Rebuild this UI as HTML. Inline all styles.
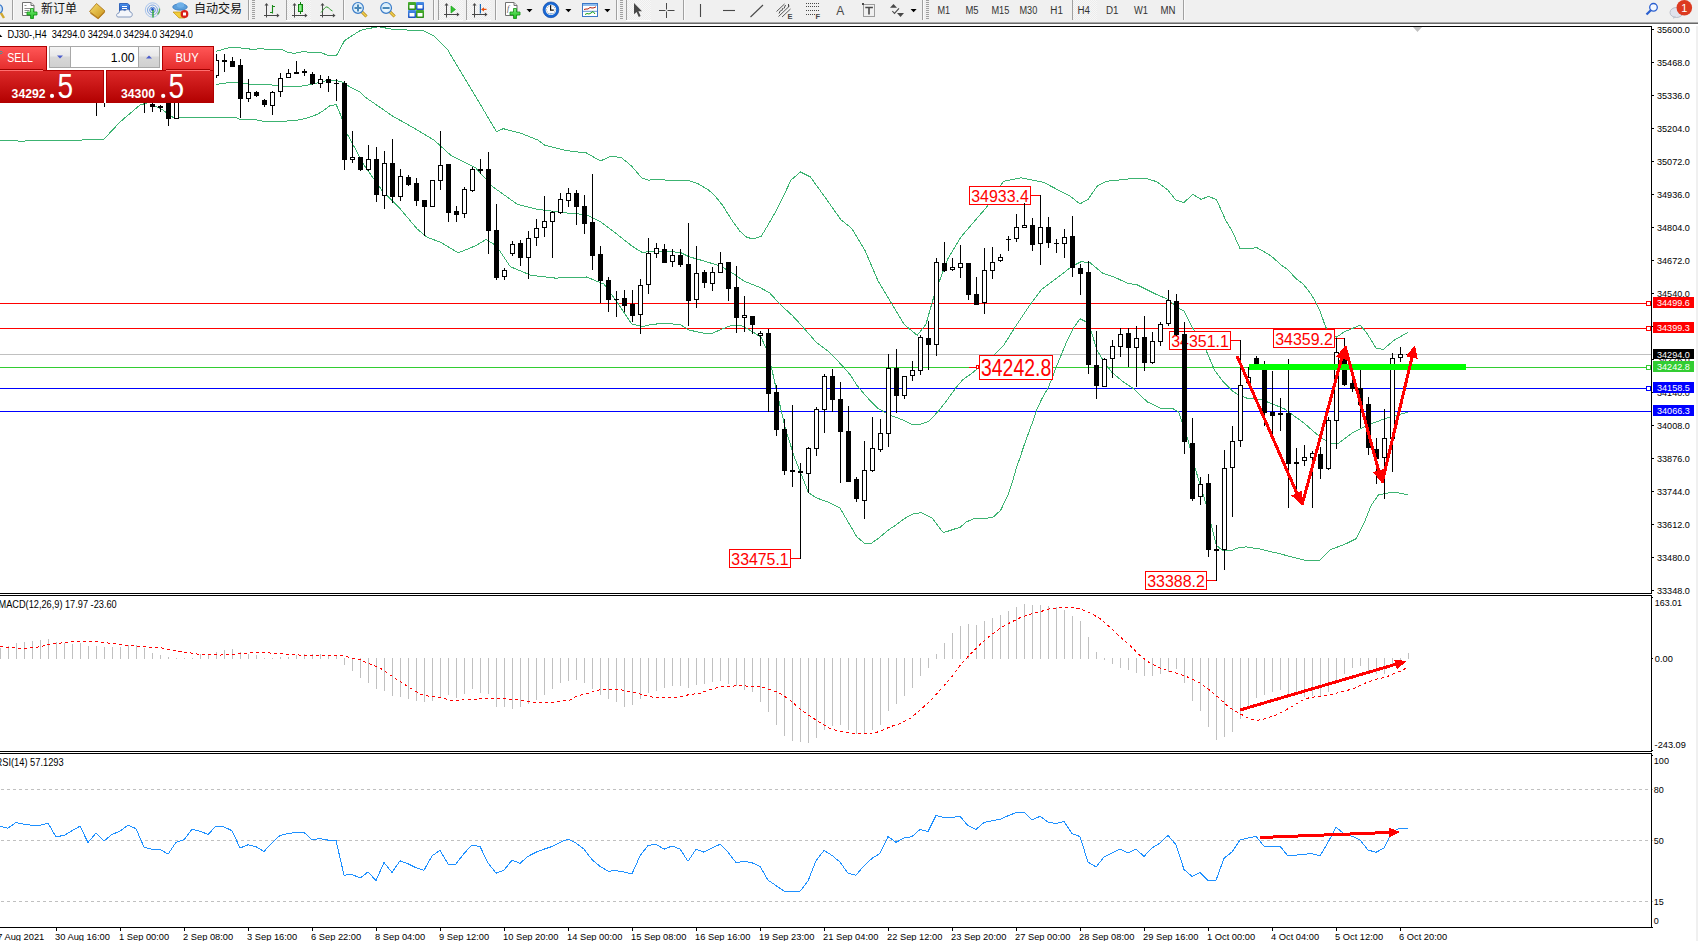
<!DOCTYPE html>
<html><head><meta charset="utf-8"><title>MT4 DJ30 H4</title>
<style>
html,body{margin:0;padding:0;background:#fff;}
body{width:1698px;height:941px;overflow:hidden;position:relative;font-family:"Liberation Sans",Arial,sans-serif;}
svg text{white-space:pre;}
</style></head><body>
<svg width="1698" height="941" viewBox="0 0 1698 941" style="position:absolute;left:0;top:0" font-family="Liberation Sans, Arial, sans-serif">
<rect x="0" y="0" width="1698" height="941" fill="#fff"/>
<rect x="1696" y="23" width="2" height="918" fill="#f0f0f0"/>
<g shape-rendering="crispEdges">
<rect x="0" y="303" width="1651" height="1" fill="#ff0000"/>
<rect x="0" y="328" width="1651" height="1" fill="#ff0000"/>
<rect x="0" y="354" width="1651" height="1" fill="#c0c0c0"/>
<rect x="0" y="367" width="1651" height="1" fill="#32cd32"/>
<rect x="0" y="388" width="1651" height="1" fill="#0000ff"/>
<rect x="0" y="411" width="1651" height="1" fill="#0000ff"/>
<rect x="1646.5" y="301.5" width="4" height="4" fill="#fff" stroke="#ff0000" stroke-width="1"/>
<rect x="1646.5" y="326.5" width="4" height="4" fill="#fff" stroke="#ff0000" stroke-width="1"/>
<rect x="1646.5" y="365.5" width="4" height="4" fill="#fff" stroke="#32cd32" stroke-width="1"/>
<rect x="1646.5" y="386.5" width="4" height="4" fill="#fff" stroke="#0000ff" stroke-width="1"/>
</g>
<g fill="none" stroke="#3cb371" stroke-width="1" shape-rendering="crispEdges">
<polyline points="216.0,51.3 230.8,47.2 236.0,47.5 253.0,49.4 260.6,48.6 269.0,49.7 281.8,49.4 288.0,52.3 294.6,53.4 303.0,51.5 309.5,52.3 321.0,52.5 327.5,55.3 336.6,55.3 338.0,52.8 344.5,40.6 351.0,36.4 359.4,31.0 364.7,29.2 378.5,26.8 392.4,29.2 423.6,30.9 434.0,36.1 447.8,50.0 468.6,84.7 486.0,114.0 496.4,131.5 503.3,128.7 520.6,133.2 538.0,140.1 545.0,145.3 565.7,150.5 586.5,153.0 600.4,160.9 610.8,156.4 621.2,157.4 631.6,166.1 642.0,178.2 648.5,180.2 652.7,179.5 669.7,180.2 688.9,180.6 697.4,183.4 708.0,189.7 714.4,195.1 722.9,205.7 731.4,219.5 739.9,231.2 746.2,236.9 752.6,239.0 761.1,236.5 767.5,225.9 776.0,211.0 784.5,194.0 790.9,180.2 800.4,172.0 810.4,177.0 825.6,198.0 840.9,219.7 851.8,228.5 864.9,250.3 878.0,280.8 891.0,302.6 904.1,324.4 917.2,335.3 925.9,324.4 934.6,293.9 947.7,259.0 960.8,237.2 973.9,221.9 987.0,206.7 1003.4,181.4 1021.2,177.8 1043.5,182.3 1070.0,196.1 1079.9,203.9 1088.1,199.4 1097.1,186.2 1106.1,181.3 1124.2,179.5 1135.1,178.1 1145.9,178.4 1156.8,181.7 1167.6,189.8 1175.7,199.8 1183.9,202.5 1192.9,194.3 1201.0,199.4 1208.3,196.5 1216.4,199.4 1225.4,219.6 1232.7,232.3 1239.9,248.2 1250.4,249.0 1256.4,247.4 1263.8,251.6 1271.2,256.0 1281.7,265.4 1287.6,269.4 1296.5,279.1 1302.5,283.3 1309.9,292.5 1314.4,299.9 1320.3,311.8 1325.5,326.7 1330.0,334.0 1336.7,337.1 1344.1,331.9 1353.1,328.2 1360.2,325.2 1366.5,332.6 1376.1,348.3 1383.6,349.3 1393.2,340.8 1408.1,332.3"/>
<polyline points="216.0,84.4 230.8,82.3 236.0,82.3 244.6,83.7 253.0,84.4 269.0,84.7 285.0,86.3 300.0,86.3 309.5,84.7 317.0,83.1 325.4,81.0 335.0,80.2 342.4,82.0 348.8,86.3 359.4,91.6 364.7,96.8 392.4,115.9 416.7,129.7 434.0,140.1 451.3,155.7 475.6,167.8 492.9,186.9 517.2,204.2 538.0,209.4 565.7,212.9 586.5,214.6 600.4,221.6 614.2,232.0 631.6,245.8 642.0,252.4 648.5,251.8 661.2,251.0 680.4,252.4 688.9,256.7 703.7,260.9 720.7,266.2 733.5,273.7 744.1,281.1 759.0,287.1 769.6,292.8 780.2,304.5 791.9,315.1 800.0,323.8 805.9,330.5 816.4,342.4 828.3,351.3 837.2,360.2 844.6,368.4 850.6,375.1 856.5,384.8 863.9,393.7 869.9,400.4 877.3,407.8 883.3,411.5 892.2,416.0 904.1,420.4 911.5,424.2 920.8,424.2 928.9,421.2 938.3,411.3 946.5,400.8 955.8,387.9 962.8,379.7 971.0,373.9 976.9,369.2 994.2,354.8 1003.3,345.8 1015.9,325.9 1030.4,304.2 1041.2,289.8 1052.0,281.6 1062.9,273.5 1071.9,266.3 1081.0,261.7 1090.0,262.7 1102.5,273.0 1115.2,277.5 1127.8,283.4 1136.9,284.7 1147.7,290.1 1156.8,294.6 1167.6,299.2 1178.4,308.2 1184.0,310.8 1192.3,327.2 1205.7,349.5 1214.6,370.3 1223.5,382.2 1232.5,391.1 1239.9,395.6 1247.3,398.3 1253.3,398.3 1262.2,400.0 1274.1,404.5 1284.5,409.0 1304.3,423.3 1319.2,436.3 1330.4,443.8 1337.8,443.8 1352.7,432.6 1367.5,425.2 1382.4,419.6 1393.6,415.9 1408.4,412.2"/>
<polyline points="0.0,140.1 20.0,141.1 100.0,139.7 104.0,139.1 120.0,122.0 140.0,105.0 147.0,103.0"/>
<polyline points="153.0,104.0 155.0,106.0 163.0,110.0 168.0,114.0 174.0,118.0 181.0,117.6 200.0,117.1 235.0,117.1 240.4,119.6 253.0,119.3 263.8,121.4 282.9,121.4 297.8,120.1 306.3,118.2 317.0,114.5 323.3,110.8 329.6,106.0 336.0,104.4 338.0,108.6 341.9,118.2 343.9,128.0 364.7,166.1 382.0,190.4 399.3,207.7 416.7,228.5 427.0,237.2 440.9,242.4 458.2,252.8 475.6,245.8 486.0,239.6 496.4,245.8 510.2,266.6 531.0,275.3 555.3,278.1 586.5,277.0 603.8,284.0 617.7,303.0 631.6,323.8 642.0,326.6 650.6,324.7 663.4,323.2 680.4,324.7 688.9,330.0 703.7,333.2 712.2,333.2 725.0,327.9 731.4,325.3 739.9,325.3 746.2,327.9 754.7,333.2 761.1,337.4 767.5,351.2 772.0,370.0 778.7,400.0 785.5,428.9 794.0,456.1 800.8,473.1 808.5,492.7 816.1,497.8 828.0,502.0 839.9,508.0 848.4,522.4 856.9,536.9 864.6,543.4 871.4,543.4 879.0,537.8 889.3,529.3 896.0,525.0 906.3,517.3 913.1,513.9 921.6,512.7 932.4,518.4 943.3,532.7 960.4,527.1 966.4,521.9 973.8,518.7 987.2,518.2 993.1,517.2 1000.6,510.3 1008.0,495.2 1012.5,481.8 1016.2,468.4 1019.9,458.0 1024.3,444.6 1028.1,434.2 1032.5,422.3 1036.2,411.2 1041.2,400.0 1048.4,387.4 1057.5,363.9 1066.5,342.2 1073.7,327.7 1080.0,318.7 1088.1,322.8 1091.8,333.4 1097.2,350.6 1102.7,359.6 1111.7,372.3 1122.5,381.3 1133.4,388.6 1140.6,395.8 1147.8,402.1 1160.5,408.4 1173.1,408.8 1178.6,412.1 1182.2,422.9 1188.1,440.3 1195.2,468.6 1206.3,504.9 1216.3,545.3 1222.4,550.3 1231.5,550.9 1236.5,548.3 1246.0,546.9 1259.7,549.0 1278.3,553.4 1304.3,560.1 1319.2,560.9 1330.4,549.7 1345.2,544.1 1356.4,538.6 1363.8,523.7 1371.3,505.1 1378.7,494.7 1393.6,492.1 1408.4,494.7"/>
</g>
<polyline points="1031.0,195.5 1040.5,195.5" fill="none" stroke="#ff0000" stroke-width="1" shape-rendering="crispEdges"/>
<rect x="969.5" y="186.5" width="61.0" height="18.0" fill="#fff" stroke="#ff0000" stroke-width="1" shape-rendering="crispEdges"/>
<text x="971.2" y="202.2" font-size="16.5" fill="#ff0000" textLength="57.6" lengthAdjust="spacingAndGlyphs">34933.4</text>
<polyline points="791.0,558.5 800.5,558.5" fill="none" stroke="#ff0000" stroke-width="1" shape-rendering="crispEdges"/>
<rect x="729.5" y="549.5" width="61.0" height="18.0" fill="#fff" stroke="#ff0000" stroke-width="1" shape-rendering="crispEdges"/>
<text x="731.3" y="565.2" font-size="16.5" fill="#ff0000" textLength="57.4" lengthAdjust="spacingAndGlyphs">33475.1</text>
<polyline points="1231.0,340.5 1240.5,340.5" fill="none" stroke="#ff0000" stroke-width="1" shape-rendering="crispEdges"/>
<rect x="1169.5" y="331.5" width="61.0" height="18.0" fill="#fff" stroke="#ff0000" stroke-width="1" shape-rendering="crispEdges"/>
<text x="1171.2" y="347.2" font-size="16.5" fill="#ff0000" textLength="57.6" lengthAdjust="spacingAndGlyphs">34351.1</text>
<polyline points="1334.0,338.5 1344.5,338.5" fill="none" stroke="#ff0000" stroke-width="1" shape-rendering="crispEdges"/>
<rect x="1273.5" y="329.5" width="61.0" height="18.0" fill="#fff" stroke="#ff0000" stroke-width="1" shape-rendering="crispEdges"/>
<text x="1275.2" y="345.2" font-size="16.5" fill="#ff0000" textLength="57.6" lengthAdjust="spacingAndGlyphs">34359.2</text>
<polyline points="1207.0,580.5 1216.5,580.5" fill="none" stroke="#ff0000" stroke-width="1" shape-rendering="crispEdges"/>
<rect x="1145.5" y="571.5" width="61.0" height="18.0" fill="#fff" stroke="#ff0000" stroke-width="1" shape-rendering="crispEdges"/>
<text x="1147.2" y="587.2" font-size="16.5" fill="#ff0000" textLength="57.6" lengthAdjust="spacingAndGlyphs">33388.2</text>
<rect x="969" y="367" width="7" height="1" fill="#ff0000" shape-rendering="crispEdges"/>
<rect x="976.5" y="365.5" width="2" height="3" fill="#fff" stroke="#ff0000" stroke-width="1" shape-rendering="crispEdges"/>
<rect x="979.5" y="355.5" width="73.0" height="24.0" fill="#fff" stroke="#ff0000" stroke-width="1" shape-rendering="crispEdges"/>
<text x="981.0" y="376.0" font-size="23.4" fill="#ff0000" textLength="70.2" lengthAdjust="spacingAndGlyphs">34242.8</text>
<g shape-rendering="crispEdges">
<rect x="96" y="60" width="1" height="56" fill="#000"/>
<rect x="94" y="70" width="5" height="10" fill="#000"/>
<rect x="104" y="58" width="1" height="49" fill="#000"/>
<rect x="102.5" y="70.5" width="4" height="4" fill="#fff" stroke="#000" stroke-width="1"/>
<rect x="112" y="60" width="1" height="30" fill="#000"/>
<rect x="110" y="65" width="5" height="15" fill="#000"/>
<rect x="120" y="62" width="1" height="30" fill="#000"/>
<rect x="118.5" y="70.5" width="4" height="14" fill="#fff" stroke="#000" stroke-width="1"/>
<rect x="128" y="60" width="1" height="35" fill="#000"/>
<rect x="126" y="68" width="5" height="10" fill="#000"/>
<rect x="136" y="65" width="1" height="33" fill="#000"/>
<rect x="134.5" y="72.5" width="4" height="15" fill="#fff" stroke="#000" stroke-width="1"/>
<rect x="144" y="66" width="1" height="47" fill="#000"/>
<rect x="142" y="75" width="5" height="15" fill="#000"/>
<rect x="152" y="80" width="1" height="32" fill="#000"/>
<rect x="150" y="104" width="5" height="3" fill="#000"/>
<rect x="160" y="105" width="1" height="7" fill="#000"/>
<rect x="158" y="106" width="5" height="2" fill="#000"/>
<rect x="168" y="90" width="1" height="36" fill="#000"/>
<rect x="166" y="95" width="5" height="24" fill="#000"/>
<rect x="176" y="90" width="1" height="29" fill="#000"/>
<rect x="174.5" y="95.5" width="4" height="23" fill="#fff" stroke="#000" stroke-width="1"/>
<rect x="184" y="70" width="1" height="30" fill="#000"/>
<rect x="182.5" y="80.5" width="4" height="14" fill="#fff" stroke="#000" stroke-width="1"/>
<rect x="192" y="65" width="1" height="25" fill="#000"/>
<rect x="190.5" y="70.5" width="4" height="11" fill="#fff" stroke="#000" stroke-width="1"/>
<rect x="200" y="60" width="1" height="25" fill="#000"/>
<rect x="198" y="66" width="5" height="9" fill="#000"/>
<rect x="208" y="58" width="1" height="22" fill="#000"/>
<rect x="206.5" y="62.5" width="4" height="7" fill="#fff" stroke="#000" stroke-width="1"/>
<rect x="216" y="54" width="1" height="24" fill="#000"/>
<rect x="214.5" y="60.5" width="4" height="15" fill="#fff" stroke="#000" stroke-width="1"/>
<rect x="224" y="54" width="1" height="18" fill="#000"/>
<rect x="222" y="60" width="5" height="2" fill="#000"/>
<rect x="232" y="57" width="1" height="10" fill="#000"/>
<rect x="230" y="61" width="5" height="6" fill="#000"/>
<rect x="240" y="59" width="1" height="59" fill="#000"/>
<rect x="238" y="65" width="5" height="34" fill="#000"/>
<rect x="248" y="79" width="1" height="23" fill="#000"/>
<rect x="246.5" y="92.5" width="4" height="6" fill="#fff" stroke="#000" stroke-width="1"/>
<rect x="256" y="91" width="1" height="6" fill="#000"/>
<rect x="254" y="92" width="5" height="4" fill="#000"/>
<rect x="264" y="99" width="1" height="8" fill="#000"/>
<rect x="262" y="100" width="5" height="5" fill="#000"/>
<rect x="272" y="91" width="1" height="24" fill="#000"/>
<rect x="270.5" y="92.5" width="4" height="13" fill="#fff" stroke="#000" stroke-width="1"/>
<rect x="280" y="73" width="1" height="24" fill="#000"/>
<rect x="278.5" y="78.5" width="4" height="13" fill="#fff" stroke="#000" stroke-width="1"/>
<rect x="288" y="69" width="1" height="9" fill="#000"/>
<rect x="286.5" y="73.5" width="4" height="4" fill="#fff" stroke="#000" stroke-width="1"/>
<rect x="296" y="61" width="1" height="13" fill="#000"/>
<rect x="294" y="72" width="5" height="2" fill="#000"/>
<rect x="304" y="69" width="1" height="7" fill="#000"/>
<rect x="302" y="71" width="5" height="2" fill="#000"/>
<rect x="312" y="72" width="1" height="13" fill="#000"/>
<rect x="310" y="74" width="5" height="10" fill="#000"/>
<rect x="320" y="75" width="1" height="13" fill="#000"/>
<rect x="318.5" y="79.5" width="4" height="4" fill="#fff" stroke="#000" stroke-width="1"/>
<rect x="328" y="76" width="1" height="16" fill="#000"/>
<rect x="326" y="79" width="5" height="4" fill="#000"/>
<rect x="336" y="79" width="1" height="22" fill="#000"/>
<rect x="334" y="83" width="5" height="1" fill="#000"/>
<rect x="344" y="81" width="1" height="89" fill="#000"/>
<rect x="342" y="83" width="5" height="77" fill="#000"/>
<rect x="352" y="131" width="1" height="32" fill="#000"/>
<rect x="350.5" y="157.5" width="4" height="2" fill="#fff" stroke="#000" stroke-width="1"/>
<rect x="360" y="157" width="1" height="14" fill="#000"/>
<rect x="358" y="157" width="5" height="13" fill="#000"/>
<rect x="368" y="145" width="1" height="26" fill="#000"/>
<rect x="366.5" y="159.5" width="4" height="10" fill="#fff" stroke="#000" stroke-width="1"/>
<rect x="376" y="147" width="1" height="55" fill="#000"/>
<rect x="374" y="159" width="5" height="36" fill="#000"/>
<rect x="384" y="151" width="1" height="58" fill="#000"/>
<rect x="382.5" y="163.5" width="4" height="32" fill="#fff" stroke="#000" stroke-width="1"/>
<rect x="392" y="139" width="1" height="64" fill="#000"/>
<rect x="390" y="163" width="5" height="34" fill="#000"/>
<rect x="400" y="169" width="1" height="32" fill="#000"/>
<rect x="398.5" y="176.5" width="4" height="20" fill="#fff" stroke="#000" stroke-width="1"/>
<rect x="408" y="175" width="1" height="11" fill="#000"/>
<rect x="406" y="177" width="5" height="8" fill="#000"/>
<rect x="416" y="178" width="1" height="28" fill="#000"/>
<rect x="414" y="183" width="5" height="18" fill="#000"/>
<rect x="424" y="200" width="1" height="36" fill="#000"/>
<rect x="422" y="200" width="5" height="7" fill="#000"/>
<rect x="432" y="180" width="1" height="27" fill="#000"/>
<rect x="430.5" y="180.5" width="4" height="26" fill="#fff" stroke="#000" stroke-width="1"/>
<rect x="440" y="131" width="1" height="59" fill="#000"/>
<rect x="438.5" y="165.5" width="4" height="15" fill="#fff" stroke="#000" stroke-width="1"/>
<rect x="448" y="164" width="1" height="58" fill="#000"/>
<rect x="446" y="164" width="5" height="49" fill="#000"/>
<rect x="456" y="206" width="1" height="16" fill="#000"/>
<rect x="454" y="211" width="5" height="4" fill="#000"/>
<rect x="464" y="187" width="1" height="31" fill="#000"/>
<rect x="462.5" y="189.5" width="4" height="24" fill="#fff" stroke="#000" stroke-width="1"/>
<rect x="472" y="167" width="1" height="25" fill="#000"/>
<rect x="470.5" y="169.5" width="4" height="21" fill="#fff" stroke="#000" stroke-width="1"/>
<rect x="480" y="159" width="1" height="15" fill="#000"/>
<rect x="478" y="169" width="5" height="2" fill="#000"/>
<rect x="488" y="152" width="1" height="102" fill="#000"/>
<rect x="486" y="169" width="5" height="62" fill="#000"/>
<rect x="496" y="204" width="1" height="76" fill="#000"/>
<rect x="494" y="230" width="5" height="48" fill="#000"/>
<rect x="504" y="268" width="1" height="12" fill="#000"/>
<rect x="502.5" y="270.5" width="4" height="6" fill="#fff" stroke="#000" stroke-width="1"/>
<rect x="512" y="241" width="1" height="15" fill="#000"/>
<rect x="510.5" y="244.5" width="4" height="9" fill="#fff" stroke="#000" stroke-width="1"/>
<rect x="520" y="240" width="1" height="26" fill="#000"/>
<rect x="518" y="243" width="5" height="15" fill="#000"/>
<rect x="528" y="231" width="1" height="48" fill="#000"/>
<rect x="526.5" y="238.5" width="4" height="19" fill="#fff" stroke="#000" stroke-width="1"/>
<rect x="536" y="219" width="1" height="27" fill="#000"/>
<rect x="534.5" y="228.5" width="4" height="9" fill="#fff" stroke="#000" stroke-width="1"/>
<rect x="544" y="196" width="1" height="41" fill="#000"/>
<rect x="542.5" y="221.5" width="4" height="6" fill="#fff" stroke="#000" stroke-width="1"/>
<rect x="552" y="211" width="1" height="47" fill="#000"/>
<rect x="550.5" y="212.5" width="4" height="9" fill="#fff" stroke="#000" stroke-width="1"/>
<rect x="560" y="193" width="1" height="21" fill="#000"/>
<rect x="558.5" y="199.5" width="4" height="13" fill="#fff" stroke="#000" stroke-width="1"/>
<rect x="568" y="188" width="1" height="19" fill="#000"/>
<rect x="566.5" y="193.5" width="4" height="7" fill="#fff" stroke="#000" stroke-width="1"/>
<rect x="576" y="190" width="1" height="35" fill="#000"/>
<rect x="574" y="193" width="5" height="14" fill="#000"/>
<rect x="584" y="195" width="1" height="39" fill="#000"/>
<rect x="582" y="206" width="5" height="18" fill="#000"/>
<rect x="592" y="174" width="1" height="96" fill="#000"/>
<rect x="590" y="222" width="5" height="34" fill="#000"/>
<rect x="600" y="246" width="1" height="57" fill="#000"/>
<rect x="598" y="254" width="5" height="27" fill="#000"/>
<rect x="608" y="277" width="1" height="35" fill="#000"/>
<rect x="606" y="280" width="5" height="20" fill="#000"/>
<rect x="616" y="291" width="1" height="26" fill="#000"/>
<rect x="614" y="299" width="5" height="1" fill="#000"/>
<rect x="624" y="290" width="1" height="22" fill="#000"/>
<rect x="622" y="298" width="5" height="8" fill="#000"/>
<rect x="632" y="290" width="1" height="32" fill="#000"/>
<rect x="630" y="304" width="5" height="12" fill="#000"/>
<rect x="640" y="279" width="1" height="55" fill="#000"/>
<rect x="638.5" y="285.5" width="4" height="29" fill="#fff" stroke="#000" stroke-width="1"/>
<rect x="648" y="238" width="1" height="56" fill="#000"/>
<rect x="646.5" y="253.5" width="4" height="31" fill="#fff" stroke="#000" stroke-width="1"/>
<rect x="656" y="243" width="1" height="15" fill="#000"/>
<rect x="654.5" y="248.5" width="4" height="5" fill="#fff" stroke="#000" stroke-width="1"/>
<rect x="664" y="244" width="1" height="19" fill="#000"/>
<rect x="662" y="249" width="5" height="14" fill="#000"/>
<rect x="672" y="249" width="1" height="18" fill="#000"/>
<rect x="670.5" y="255.5" width="4" height="6" fill="#fff" stroke="#000" stroke-width="1"/>
<rect x="680" y="249" width="1" height="18" fill="#000"/>
<rect x="678" y="255" width="5" height="10" fill="#000"/>
<rect x="688" y="223" width="1" height="103" fill="#000"/>
<rect x="686" y="264" width="5" height="37" fill="#000"/>
<rect x="696" y="246" width="1" height="62" fill="#000"/>
<rect x="694.5" y="273.5" width="4" height="26" fill="#fff" stroke="#000" stroke-width="1"/>
<rect x="704" y="270" width="1" height="18" fill="#000"/>
<rect x="702" y="272" width="5" height="11" fill="#000"/>
<rect x="712" y="267" width="1" height="24" fill="#000"/>
<rect x="710.5" y="272.5" width="4" height="11" fill="#fff" stroke="#000" stroke-width="1"/>
<rect x="720" y="252" width="1" height="21" fill="#000"/>
<rect x="718.5" y="263.5" width="4" height="9" fill="#fff" stroke="#000" stroke-width="1"/>
<rect x="728" y="262" width="1" height="39" fill="#000"/>
<rect x="726" y="262" width="5" height="27" fill="#000"/>
<rect x="736" y="266" width="1" height="67" fill="#000"/>
<rect x="734" y="287" width="5" height="31" fill="#000"/>
<rect x="744" y="296" width="1" height="36" fill="#000"/>
<rect x="742.5" y="315.5" width="4" height="2" fill="#fff" stroke="#000" stroke-width="1"/>
<rect x="752" y="316" width="1" height="18" fill="#000"/>
<rect x="750" y="316" width="5" height="9" fill="#000"/>
<rect x="760" y="331" width="1" height="15" fill="#000"/>
<rect x="758.5" y="333.5" width="4" height="2" fill="#fff" stroke="#000" stroke-width="1"/>
<rect x="768" y="329" width="1" height="83" fill="#000"/>
<rect x="766" y="333" width="5" height="61" fill="#000"/>
<rect x="776" y="385" width="1" height="51" fill="#000"/>
<rect x="774" y="392" width="5" height="38" fill="#000"/>
<rect x="784" y="419" width="1" height="56" fill="#000"/>
<rect x="782" y="429" width="5" height="42" fill="#000"/>
<rect x="792" y="405" width="1" height="82" fill="#000"/>
<rect x="790" y="470" width="5" height="2" fill="#000"/>
<rect x="800" y="463" width="1" height="96" fill="#000"/>
<rect x="798" y="471" width="5" height="2" fill="#000"/>
<rect x="808" y="447" width="1" height="46" fill="#000"/>
<rect x="806.5" y="448.5" width="4" height="25" fill="#fff" stroke="#000" stroke-width="1"/>
<rect x="816" y="407" width="1" height="49" fill="#000"/>
<rect x="814.5" y="409.5" width="4" height="39" fill="#fff" stroke="#000" stroke-width="1"/>
<rect x="824" y="374" width="1" height="59" fill="#000"/>
<rect x="822.5" y="376.5" width="4" height="33" fill="#fff" stroke="#000" stroke-width="1"/>
<rect x="832" y="369" width="1" height="43" fill="#000"/>
<rect x="830" y="376" width="5" height="24" fill="#000"/>
<rect x="840" y="382" width="1" height="101" fill="#000"/>
<rect x="838" y="399" width="5" height="33" fill="#000"/>
<rect x="848" y="406" width="1" height="76" fill="#000"/>
<rect x="846" y="431" width="5" height="51" fill="#000"/>
<rect x="856" y="477" width="1" height="25" fill="#000"/>
<rect x="854" y="479" width="5" height="20" fill="#000"/>
<rect x="864" y="441" width="1" height="78" fill="#000"/>
<rect x="862.5" y="470.5" width="4" height="30" fill="#fff" stroke="#000" stroke-width="1"/>
<rect x="872" y="417" width="1" height="55" fill="#000"/>
<rect x="870.5" y="448.5" width="4" height="22" fill="#fff" stroke="#000" stroke-width="1"/>
<rect x="880" y="419" width="1" height="33" fill="#000"/>
<rect x="878.5" y="433.5" width="4" height="16" fill="#fff" stroke="#000" stroke-width="1"/>
<rect x="888" y="354" width="1" height="93" fill="#000"/>
<rect x="886.5" y="368.5" width="4" height="65" fill="#fff" stroke="#000" stroke-width="1"/>
<rect x="896" y="349" width="1" height="64" fill="#000"/>
<rect x="894" y="368" width="5" height="28" fill="#000"/>
<rect x="904" y="376" width="1" height="23" fill="#000"/>
<rect x="902.5" y="376.5" width="4" height="19" fill="#fff" stroke="#000" stroke-width="1"/>
<rect x="912" y="361" width="1" height="20" fill="#000"/>
<rect x="910.5" y="370.5" width="4" height="5" fill="#fff" stroke="#000" stroke-width="1"/>
<rect x="920" y="335" width="1" height="40" fill="#000"/>
<rect x="918.5" y="337.5" width="4" height="33" fill="#fff" stroke="#000" stroke-width="1"/>
<rect x="928" y="321" width="1" height="49" fill="#000"/>
<rect x="926" y="338" width="5" height="7" fill="#000"/>
<rect x="936" y="258" width="1" height="98" fill="#000"/>
<rect x="934.5" y="262.5" width="4" height="82" fill="#fff" stroke="#000" stroke-width="1"/>
<rect x="944" y="242" width="1" height="30" fill="#000"/>
<rect x="942" y="263" width="5" height="8" fill="#000"/>
<rect x="952" y="258" width="1" height="13" fill="#000"/>
<rect x="950.5" y="267.5" width="4" height="2" fill="#fff" stroke="#000" stroke-width="1"/>
<rect x="960" y="245" width="1" height="33" fill="#000"/>
<rect x="958.5" y="263.5" width="4" height="4" fill="#fff" stroke="#000" stroke-width="1"/>
<rect x="968" y="263" width="1" height="37" fill="#000"/>
<rect x="966" y="263" width="5" height="32" fill="#000"/>
<rect x="976" y="277" width="1" height="28" fill="#000"/>
<rect x="974" y="294" width="5" height="11" fill="#000"/>
<rect x="984" y="248" width="1" height="66" fill="#000"/>
<rect x="982.5" y="270.5" width="4" height="32" fill="#fff" stroke="#000" stroke-width="1"/>
<rect x="992" y="247" width="1" height="32" fill="#000"/>
<rect x="990.5" y="262.5" width="4" height="8" fill="#fff" stroke="#000" stroke-width="1"/>
<rect x="1000" y="254" width="1" height="8" fill="#000"/>
<rect x="998.5" y="257.5" width="4" height="3" fill="#fff" stroke="#000" stroke-width="1"/>
<rect x="1008" y="236" width="1" height="15" fill="#000"/>
<rect x="1006" y="239" width="5" height="1" fill="#000"/>
<rect x="1016" y="214" width="1" height="28" fill="#000"/>
<rect x="1014.5" y="227.5" width="4" height="11" fill="#fff" stroke="#000" stroke-width="1"/>
<rect x="1024" y="203" width="1" height="25" fill="#000"/>
<rect x="1022.5" y="225.5" width="4" height="2" fill="#fff" stroke="#000" stroke-width="1"/>
<rect x="1032" y="218" width="1" height="33" fill="#000"/>
<rect x="1030" y="225" width="5" height="20" fill="#000"/>
<rect x="1040" y="195" width="1" height="70" fill="#000"/>
<rect x="1038.5" y="227.5" width="4" height="16" fill="#fff" stroke="#000" stroke-width="1"/>
<rect x="1048" y="217" width="1" height="31" fill="#000"/>
<rect x="1046" y="227" width="5" height="16" fill="#000"/>
<rect x="1056" y="239" width="1" height="14" fill="#000"/>
<rect x="1054" y="243" width="5" height="1" fill="#000"/>
<rect x="1064" y="229" width="1" height="29" fill="#000"/>
<rect x="1062.5" y="237.5" width="4" height="6" fill="#fff" stroke="#000" stroke-width="1"/>
<rect x="1072" y="216" width="1" height="61" fill="#000"/>
<rect x="1070" y="236" width="5" height="32" fill="#000"/>
<rect x="1080" y="264" width="1" height="31" fill="#000"/>
<rect x="1078" y="268" width="5" height="6" fill="#000"/>
<rect x="1088" y="261" width="1" height="113" fill="#000"/>
<rect x="1086" y="272" width="5" height="93" fill="#000"/>
<rect x="1096" y="331" width="1" height="68" fill="#000"/>
<rect x="1094" y="365" width="5" height="21" fill="#000"/>
<rect x="1104" y="358" width="1" height="29" fill="#000"/>
<rect x="1102.5" y="359.5" width="4" height="27" fill="#fff" stroke="#000" stroke-width="1"/>
<rect x="1112" y="340" width="1" height="38" fill="#000"/>
<rect x="1110.5" y="346.5" width="4" height="12" fill="#fff" stroke="#000" stroke-width="1"/>
<rect x="1120" y="328" width="1" height="29" fill="#000"/>
<rect x="1118.5" y="334.5" width="4" height="12" fill="#fff" stroke="#000" stroke-width="1"/>
<rect x="1128" y="328" width="1" height="39" fill="#000"/>
<rect x="1126" y="333" width="5" height="15" fill="#000"/>
<rect x="1136" y="326" width="1" height="61" fill="#000"/>
<rect x="1134.5" y="338.5" width="4" height="9" fill="#fff" stroke="#000" stroke-width="1"/>
<rect x="1144" y="316" width="1" height="55" fill="#000"/>
<rect x="1142" y="337" width="5" height="26" fill="#000"/>
<rect x="1152" y="332" width="1" height="32" fill="#000"/>
<rect x="1150.5" y="341.5" width="4" height="21" fill="#fff" stroke="#000" stroke-width="1"/>
<rect x="1160" y="322" width="1" height="24" fill="#000"/>
<rect x="1158.5" y="324.5" width="4" height="17" fill="#fff" stroke="#000" stroke-width="1"/>
<rect x="1168" y="290" width="1" height="36" fill="#000"/>
<rect x="1166.5" y="300.5" width="4" height="23" fill="#fff" stroke="#000" stroke-width="1"/>
<rect x="1176" y="294" width="1" height="42" fill="#000"/>
<rect x="1174" y="301" width="5" height="34" fill="#000"/>
<rect x="1184" y="322" width="1" height="132" fill="#000"/>
<rect x="1182" y="334" width="5" height="108" fill="#000"/>
<rect x="1192" y="418" width="1" height="83" fill="#000"/>
<rect x="1190" y="443" width="5" height="56" fill="#000"/>
<rect x="1200" y="477" width="1" height="28" fill="#000"/>
<rect x="1198.5" y="484.5" width="4" height="12" fill="#fff" stroke="#000" stroke-width="1"/>
<rect x="1208" y="474" width="1" height="83" fill="#000"/>
<rect x="1206" y="483" width="5" height="67" fill="#000"/>
<rect x="1216" y="525" width="1" height="56" fill="#000"/>
<rect x="1214" y="549" width="5" height="2" fill="#000"/>
<rect x="1224" y="450" width="1" height="120" fill="#000"/>
<rect x="1222.5" y="468.5" width="4" height="81" fill="#fff" stroke="#000" stroke-width="1"/>
<rect x="1232" y="426" width="1" height="91" fill="#000"/>
<rect x="1230.5" y="441.5" width="4" height="26" fill="#fff" stroke="#000" stroke-width="1"/>
<rect x="1240" y="340" width="1" height="107" fill="#000"/>
<rect x="1238.5" y="385.5" width="4" height="55" fill="#fff" stroke="#000" stroke-width="1"/>
<rect x="1248" y="367" width="1" height="17" fill="#000"/>
<rect x="1246.5" y="377.5" width="4" height="5" fill="#fff" stroke="#000" stroke-width="1"/>
<rect x="1256" y="356" width="1" height="8" fill="#000"/>
<rect x="1254" y="358" width="5" height="6" fill="#000"/>
<rect x="1264" y="361" width="1" height="65" fill="#000"/>
<rect x="1262" y="369" width="5" height="44" fill="#000"/>
<rect x="1272" y="371" width="1" height="64" fill="#000"/>
<rect x="1270" y="412" width="5" height="4" fill="#000"/>
<rect x="1280" y="398" width="1" height="33" fill="#000"/>
<rect x="1278" y="413" width="5" height="2" fill="#000"/>
<rect x="1288" y="359" width="1" height="149" fill="#000"/>
<rect x="1286" y="413" width="5" height="51" fill="#000"/>
<rect x="1296" y="448" width="1" height="50" fill="#000"/>
<rect x="1294" y="462" width="5" height="2" fill="#000"/>
<rect x="1304" y="445" width="1" height="21" fill="#000"/>
<rect x="1302.5" y="457.5" width="4" height="3" fill="#fff" stroke="#000" stroke-width="1"/>
<rect x="1312" y="451" width="1" height="57" fill="#000"/>
<rect x="1310.5" y="453.5" width="4" height="4" fill="#fff" stroke="#000" stroke-width="1"/>
<rect x="1320" y="447" width="1" height="32" fill="#000"/>
<rect x="1318" y="454" width="5" height="15" fill="#000"/>
<rect x="1328" y="417" width="1" height="53" fill="#000"/>
<rect x="1326.5" y="420.5" width="4" height="48" fill="#fff" stroke="#000" stroke-width="1"/>
<rect x="1336" y="338" width="1" height="111" fill="#000"/>
<rect x="1334.5" y="352.5" width="4" height="68" fill="#fff" stroke="#000" stroke-width="1"/>
<rect x="1344" y="338" width="1" height="48" fill="#000"/>
<rect x="1342" y="356" width="5" height="29" fill="#000"/>
<rect x="1352" y="375" width="1" height="17" fill="#000"/>
<rect x="1350" y="383" width="5" height="6" fill="#000"/>
<rect x="1360" y="370" width="1" height="58" fill="#000"/>
<rect x="1358" y="388" width="5" height="17" fill="#000"/>
<rect x="1368" y="397" width="1" height="58" fill="#000"/>
<rect x="1366" y="404" width="5" height="44" fill="#000"/>
<rect x="1376" y="438" width="1" height="46" fill="#000"/>
<rect x="1374" y="449" width="5" height="10" fill="#000"/>
<rect x="1384" y="409" width="1" height="90" fill="#000"/>
<rect x="1382.5" y="438.5" width="4" height="19" fill="#fff" stroke="#000" stroke-width="1"/>
<rect x="1392" y="353" width="1" height="119" fill="#000"/>
<rect x="1390.5" y="358.5" width="4" height="80" fill="#fff" stroke="#000" stroke-width="1"/>
<rect x="1400" y="347" width="1" height="15" fill="#000"/>
<rect x="1398.5" y="354.5" width="4" height="3" fill="#fff" stroke="#000" stroke-width="1"/>
<rect x="1406" y="354" width="5" height="1" fill="#000"/>
</g>
<rect x="1249" y="364" width="217" height="6" fill="#00ff00" shape-rendering="crispEdges"/>
<line x1="1237.0" y1="356.0" x2="1297.6" y2="494.9" stroke="#ff0000" stroke-width="3.0" shape-rendering="crispEdges"/>
<polygon points="1302.0,505.0 1291.3,495.5 1302.3,490.7" fill="#ff0000" shape-rendering="crispEdges"/>
<line x1="1302.0" y1="505.0" x2="1342.1" y2="356.6" stroke="#ff0000" stroke-width="3.0" shape-rendering="crispEdges"/>
<polygon points="1345.0,346.0 1347.4,360.1 1335.8,357.0" fill="#ff0000" shape-rendering="crispEdges"/>
<line x1="1345.0" y1="346.0" x2="1379.1" y2="472.4" stroke="#ff0000" stroke-width="3.0" shape-rendering="crispEdges"/>
<polygon points="1382.0,483.0 1372.8,472.0 1384.4,468.9" fill="#ff0000" shape-rendering="crispEdges"/>
<line x1="1382.0" y1="483.0" x2="1412.4" y2="355.7" stroke="#ff0000" stroke-width="3.0" shape-rendering="crispEdges"/>
<polygon points="1415.0,345.0 1417.8,359.0 1406.1,356.2" fill="#ff0000" shape-rendering="crispEdges"/>
<g shape-rendering="crispEdges" fill="#000">
<rect x="0" y="26" width="1652" height="1"/>
<rect x="1651" y="26" width="1" height="568"/>
<rect x="0" y="593" width="1652" height="1"/>
<rect x="0" y="595" width="1652" height="1"/>
<rect x="1651" y="595" width="1" height="157"/>
<rect x="0" y="751" width="1652" height="1"/>
<rect x="0" y="753" width="1652" height="1"/>
<rect x="1651" y="753" width="1" height="175"/>
<rect x="0" y="927" width="1652" height="1"/>
</g>
<polygon points="1413,27 1422,27 1417.5,32" fill="#c0c0c0"/>
<g font-size="9.8" fill="#000">
<rect x="1652" y="29" width="2" height="1" fill="#000" shape-rendering="crispEdges"/>
<text x="1657" y="33.0" textLength="32.8" lengthAdjust="spacingAndGlyphs">35600.0</text>
<rect x="1652" y="62" width="2" height="1" fill="#000" shape-rendering="crispEdges"/>
<text x="1657" y="66.0" textLength="32.8" lengthAdjust="spacingAndGlyphs">35468.0</text>
<rect x="1652" y="95" width="2" height="1" fill="#000" shape-rendering="crispEdges"/>
<text x="1657" y="99.0" textLength="32.8" lengthAdjust="spacingAndGlyphs">35336.0</text>
<rect x="1652" y="128" width="2" height="1" fill="#000" shape-rendering="crispEdges"/>
<text x="1657" y="132.0" textLength="32.8" lengthAdjust="spacingAndGlyphs">35204.0</text>
<rect x="1652" y="161" width="2" height="1" fill="#000" shape-rendering="crispEdges"/>
<text x="1657" y="165.0" textLength="32.8" lengthAdjust="spacingAndGlyphs">35072.0</text>
<rect x="1652" y="194" width="2" height="1" fill="#000" shape-rendering="crispEdges"/>
<text x="1657" y="198.0" textLength="32.8" lengthAdjust="spacingAndGlyphs">34936.0</text>
<rect x="1652" y="227" width="2" height="1" fill="#000" shape-rendering="crispEdges"/>
<text x="1657" y="231.0" textLength="32.8" lengthAdjust="spacingAndGlyphs">34804.0</text>
<rect x="1652" y="260" width="2" height="1" fill="#000" shape-rendering="crispEdges"/>
<text x="1657" y="264.0" textLength="32.8" lengthAdjust="spacingAndGlyphs">34672.0</text>
<rect x="1652" y="293" width="2" height="1" fill="#000" shape-rendering="crispEdges"/>
<text x="1657" y="297.0" textLength="32.8" lengthAdjust="spacingAndGlyphs">34540.0</text>
<rect x="1652" y="326" width="2" height="1" fill="#000" shape-rendering="crispEdges"/>
<text x="1657" y="330.0" textLength="32.8" lengthAdjust="spacingAndGlyphs">34408.0</text>
<rect x="1652" y="359" width="2" height="1" fill="#000" shape-rendering="crispEdges"/>
<text x="1657" y="363.0" textLength="32.8" lengthAdjust="spacingAndGlyphs">34276.0</text>
<rect x="1652" y="392" width="2" height="1" fill="#000" shape-rendering="crispEdges"/>
<text x="1657" y="396.0" textLength="32.8" lengthAdjust="spacingAndGlyphs">34140.0</text>
<rect x="1652" y="425" width="2" height="1" fill="#000" shape-rendering="crispEdges"/>
<text x="1657" y="429.0" textLength="32.8" lengthAdjust="spacingAndGlyphs">34008.0</text>
<rect x="1652" y="458" width="2" height="1" fill="#000" shape-rendering="crispEdges"/>
<text x="1657" y="462.0" textLength="32.8" lengthAdjust="spacingAndGlyphs">33876.0</text>
<rect x="1652" y="491" width="2" height="1" fill="#000" shape-rendering="crispEdges"/>
<text x="1657" y="495.0" textLength="32.8" lengthAdjust="spacingAndGlyphs">33744.0</text>
<rect x="1652" y="524" width="2" height="1" fill="#000" shape-rendering="crispEdges"/>
<text x="1657" y="528.0" textLength="32.8" lengthAdjust="spacingAndGlyphs">33612.0</text>
<rect x="1652" y="557" width="2" height="1" fill="#000" shape-rendering="crispEdges"/>
<text x="1657" y="561.0" textLength="32.8" lengthAdjust="spacingAndGlyphs">33480.0</text>
<rect x="1652" y="590" width="2" height="1" fill="#000" shape-rendering="crispEdges"/>
<text x="1657" y="594.0" textLength="32.8" lengthAdjust="spacingAndGlyphs">33348.0</text>
</g>
<rect x="1653" y="297" width="41" height="11" fill="#ff0000" shape-rendering="crispEdges"/>
<text x="1657" y="306.0" font-size="9.8" fill="#fff" textLength="32.8" lengthAdjust="spacingAndGlyphs">34499.6</text>
<rect x="1653" y="322" width="41" height="11" fill="#ff0000" shape-rendering="crispEdges"/>
<text x="1657" y="331.0" font-size="9.8" fill="#fff" textLength="32.8" lengthAdjust="spacingAndGlyphs">34399.3</text>
<rect x="1653" y="349" width="41" height="10" fill="#000000" shape-rendering="crispEdges"/>
<text x="1657" y="358.0" font-size="9.8" fill="#fff" textLength="32.8" lengthAdjust="spacingAndGlyphs">34294.0</text>
<rect x="1653" y="361" width="41" height="11" fill="#32cd32" shape-rendering="crispEdges"/>
<text x="1657" y="370.0" font-size="9.8" fill="#fff" textLength="32.8" lengthAdjust="spacingAndGlyphs">34242.8</text>
<rect x="1653" y="382" width="41" height="11" fill="#0000ff" shape-rendering="crispEdges"/>
<text x="1657" y="391.0" font-size="9.8" fill="#fff" textLength="32.8" lengthAdjust="spacingAndGlyphs">34158.5</text>
<rect x="1653" y="405" width="41" height="11" fill="#0000ff" shape-rendering="crispEdges"/>
<text x="1657" y="414.0" font-size="9.8" fill="#fff" textLength="32.8" lengthAdjust="spacingAndGlyphs">34066.3</text>
<g shape-rendering="crispEdges" fill="#c0c0c0">
<rect x="0" y="648" width="1" height="11"/>
<rect x="8" y="646" width="1" height="13"/>
<rect x="16" y="643" width="1" height="16"/>
<rect x="24" y="642" width="1" height="17"/>
<rect x="32" y="641" width="1" height="18"/>
<rect x="40" y="640" width="1" height="19"/>
<rect x="48" y="639" width="1" height="20"/>
<rect x="56" y="642" width="1" height="17"/>
<rect x="64" y="643" width="1" height="16"/>
<rect x="72" y="644" width="1" height="15"/>
<rect x="80" y="643" width="1" height="16"/>
<rect x="88" y="646" width="1" height="13"/>
<rect x="96" y="646" width="1" height="13"/>
<rect x="104" y="647" width="1" height="12"/>
<rect x="112" y="647" width="1" height="12"/>
<rect x="120" y="647" width="1" height="12"/>
<rect x="128" y="645" width="1" height="14"/>
<rect x="136" y="645" width="1" height="14"/>
<rect x="144" y="648" width="1" height="11"/>
<rect x="152" y="653" width="1" height="6"/>
<rect x="160" y="655" width="1" height="4"/>
<rect x="168" y="657" width="1" height="2"/>
<rect x="176" y="658" width="1" height="1"/>
<rect x="184" y="658" width="1" height="1"/>
<rect x="192" y="658" width="1" height="1"/>
<rect x="200" y="654" width="1" height="5"/>
<rect x="208" y="654" width="1" height="5"/>
<rect x="216" y="652" width="1" height="7"/>
<rect x="224" y="650" width="1" height="9"/>
<rect x="232" y="649" width="1" height="10"/>
<rect x="240" y="652" width="1" height="7"/>
<rect x="248" y="654" width="1" height="5"/>
<rect x="256" y="655" width="1" height="4"/>
<rect x="264" y="658" width="1" height="1"/>
<rect x="272" y="658" width="1" height="1"/>
<rect x="280" y="657" width="1" height="2"/>
<rect x="288" y="657" width="1" height="2"/>
<rect x="296" y="655" width="1" height="4"/>
<rect x="304" y="654" width="1" height="5"/>
<rect x="312" y="654" width="1" height="5"/>
<rect x="320" y="654" width="1" height="5"/>
<rect x="328" y="655" width="1" height="4"/>
<rect x="336" y="655" width="1" height="4"/>
<rect x="344" y="658" width="1" height="7"/>
<rect x="352" y="658" width="1" height="13"/>
<rect x="360" y="658" width="1" height="20"/>
<rect x="368" y="658" width="1" height="25"/>
<rect x="376" y="658" width="1" height="31"/>
<rect x="384" y="658" width="1" height="33"/>
<rect x="392" y="658" width="1" height="38"/>
<rect x="400" y="658" width="1" height="39"/>
<rect x="408" y="658" width="1" height="41"/>
<rect x="416" y="658" width="1" height="43"/>
<rect x="424" y="658" width="1" height="44"/>
<rect x="432" y="658" width="1" height="43"/>
<rect x="440" y="658" width="1" height="39"/>
<rect x="448" y="658" width="1" height="37"/>
<rect x="456" y="658" width="1" height="40"/>
<rect x="464" y="658" width="1" height="36"/>
<rect x="472" y="658" width="1" height="31"/>
<rect x="480" y="658" width="1" height="35"/>
<rect x="488" y="658" width="1" height="36"/>
<rect x="496" y="658" width="1" height="49"/>
<rect x="504" y="658" width="1" height="49"/>
<rect x="512" y="658" width="1" height="51"/>
<rect x="520" y="658" width="1" height="49"/>
<rect x="528" y="658" width="1" height="46"/>
<rect x="536" y="658" width="1" height="42"/>
<rect x="544" y="658" width="1" height="37"/>
<rect x="552" y="658" width="1" height="31"/>
<rect x="560" y="658" width="1" height="25"/>
<rect x="568" y="658" width="1" height="23"/>
<rect x="576" y="658" width="1" height="22"/>
<rect x="584" y="658" width="1" height="25"/>
<rect x="592" y="658" width="1" height="31"/>
<rect x="600" y="658" width="1" height="37"/>
<rect x="608" y="658" width="1" height="41"/>
<rect x="616" y="658" width="1" height="44"/>
<rect x="624" y="658" width="1" height="49"/>
<rect x="632" y="658" width="1" height="47"/>
<rect x="640" y="658" width="1" height="41"/>
<rect x="648" y="658" width="1" height="35"/>
<rect x="656" y="658" width="1" height="33"/>
<rect x="664" y="658" width="1" height="30"/>
<rect x="672" y="658" width="1" height="28"/>
<rect x="680" y="658" width="1" height="28"/>
<rect x="688" y="658" width="1" height="30"/>
<rect x="696" y="658" width="1" height="27"/>
<rect x="704" y="658" width="1" height="26"/>
<rect x="712" y="658" width="1" height="24"/>
<rect x="720" y="658" width="1" height="23"/>
<rect x="728" y="658" width="1" height="26"/>
<rect x="736" y="658" width="1" height="28"/>
<rect x="744" y="658" width="1" height="32"/>
<rect x="752" y="658" width="1" height="34"/>
<rect x="760" y="658" width="1" height="44"/>
<rect x="768" y="658" width="1" height="54"/>
<rect x="776" y="658" width="1" height="67"/>
<rect x="784" y="658" width="1" height="78"/>
<rect x="792" y="658" width="1" height="83"/>
<rect x="800" y="658" width="1" height="84"/>
<rect x="808" y="658" width="1" height="85"/>
<rect x="816" y="658" width="1" height="80"/>
<rect x="824" y="658" width="1" height="72"/>
<rect x="832" y="658" width="1" height="68"/>
<rect x="840" y="658" width="1" height="67"/>
<rect x="848" y="658" width="1" height="72"/>
<rect x="856" y="658" width="1" height="76"/>
<rect x="864" y="658" width="1" height="76"/>
<rect x="872" y="658" width="1" height="72"/>
<rect x="880" y="658" width="1" height="67"/>
<rect x="888" y="658" width="1" height="53"/>
<rect x="896" y="658" width="1" height="46"/>
<rect x="904" y="658" width="1" height="38"/>
<rect x="912" y="658" width="1" height="30"/>
<rect x="920" y="658" width="1" height="18"/>
<rect x="928" y="658" width="1" height="10"/>
<rect x="936" y="654" width="1" height="5"/>
<rect x="944" y="643" width="1" height="16"/>
<rect x="952" y="633" width="1" height="26"/>
<rect x="960" y="626" width="1" height="33"/>
<rect x="968" y="624" width="1" height="35"/>
<rect x="976" y="625" width="1" height="34"/>
<rect x="984" y="621" width="1" height="38"/>
<rect x="992" y="618" width="1" height="41"/>
<rect x="1000" y="615" width="1" height="44"/>
<rect x="1008" y="611" width="1" height="48"/>
<rect x="1016" y="607" width="1" height="52"/>
<rect x="1024" y="604" width="1" height="55"/>
<rect x="1032" y="605" width="1" height="54"/>
<rect x="1040" y="605" width="1" height="54"/>
<rect x="1048" y="606" width="1" height="53"/>
<rect x="1056" y="607" width="1" height="52"/>
<rect x="1064" y="610" width="1" height="49"/>
<rect x="1072" y="616" width="1" height="43"/>
<rect x="1080" y="621" width="1" height="38"/>
<rect x="1088" y="637" width="1" height="22"/>
<rect x="1096" y="652" width="1" height="7"/>
<rect x="1104" y="658" width="1" height="2"/>
<rect x="1112" y="658" width="1" height="6"/>
<rect x="1120" y="658" width="1" height="10"/>
<rect x="1128" y="658" width="1" height="12"/>
<rect x="1136" y="658" width="1" height="15"/>
<rect x="1144" y="658" width="1" height="18"/>
<rect x="1152" y="658" width="1" height="18"/>
<rect x="1160" y="658" width="1" height="16"/>
<rect x="1168" y="658" width="1" height="14"/>
<rect x="1176" y="658" width="1" height="11"/>
<rect x="1184" y="658" width="1" height="25"/>
<rect x="1192" y="658" width="1" height="43"/>
<rect x="1200" y="658" width="1" height="53"/>
<rect x="1208" y="658" width="1" height="69"/>
<rect x="1216" y="658" width="1" height="82"/>
<rect x="1224" y="658" width="1" height="79"/>
<rect x="1232" y="658" width="1" height="74"/>
<rect x="1240" y="658" width="1" height="61"/>
<rect x="1248" y="658" width="1" height="49"/>
<rect x="1256" y="658" width="1" height="40"/>
<rect x="1264" y="658" width="1" height="37"/>
<rect x="1272" y="658" width="1" height="34"/>
<rect x="1280" y="658" width="1" height="32"/>
<rect x="1288" y="658" width="1" height="36"/>
<rect x="1296" y="658" width="1" height="37"/>
<rect x="1304" y="658" width="1" height="39"/>
<rect x="1312" y="658" width="1" height="38"/>
<rect x="1320" y="658" width="1" height="39"/>
<rect x="1328" y="658" width="1" height="34"/>
<rect x="1336" y="658" width="1" height="24"/>
<rect x="1344" y="658" width="1" height="16"/>
<rect x="1352" y="658" width="1" height="10"/>
<rect x="1360" y="658" width="1" height="8"/>
<rect x="1368" y="658" width="1" height="13"/>
<rect x="1376" y="658" width="1" height="16"/>
<rect x="1384" y="658" width="1" height="16"/>
<rect x="1392" y="658" width="1" height="9"/>
<rect x="1400" y="658" width="1" height="4"/>
<rect x="1408" y="653" width="1" height="6"/>
</g>
<polyline points="0.0,646.5 6.0,647.3 12.0,647.3 18.0,648.5 24.0,648.5 30.0,647.4 36.0,647.4 42.0,646.2 48.0,644.4 54.0,643.5 60.0,643.2 66.0,642.4 72.0,641.5 90.0,641.5 100.0,642.0 120.0,644.5 140.0,646.4 160.0,647.7 180.0,651.4 200.0,654.4 220.0,655.1 240.0,653.6 260.0,652.4 280.0,653.6 300.0,655.1 320.0,655.6 340.0,655.1 360.0,659.8 380.0,668.0 400.0,681.6 410.0,687.8 420.0,694.0 430.0,696.4 440.0,697.6 450.0,700.1 460.0,700.1 480.0,698.9 500.0,698.4 510.0,699.4 520.0,700.1 530.0,701.9 540.0,702.6 550.0,702.6 560.0,701.4 570.0,700.1 575.0,696.9 580.0,695.2 590.0,692.7 600.0,689.7 610.0,689.0 620.0,689.7 630.0,691.5 640.0,694.0 650.0,696.9 660.0,697.6 670.0,697.6 680.0,696.9 690.0,694.4 700.0,693.4 710.0,689.5 720.0,687.0 730.0,686.5 740.0,685.3 750.0,686.5 760.0,686.5 770.0,689.5 780.0,693.4 790.0,700.1 800.0,709.0 810.0,716.2 820.0,722.4 830.0,728.6 840.0,731.5 850.0,733.0 860.0,734.0 870.0,733.5 880.0,731.5 890.0,726.8 900.0,723.6 910.0,718.7 920.0,710.0 930.0,701.4 940.0,690.2 950.0,679.1 960.0,665.5 970.0,654.4 980.0,644.5 990.0,635.8 1000.0,628.4 1010.0,622.7 1020.0,617.8 1030.0,614.3 1040.0,611.8 1050.0,608.6 1060.0,607.9 1070.0,607.4 1080.0,608.6 1090.0,612.8 1100.0,618.5 1110.0,627.2 1120.0,636.6 1130.0,645.7 1140.0,655.6 1150.0,663.0 1160.0,668.0 1170.0,671.2 1180.0,674.2 1190.0,677.9 1200.0,683.0 1210.0,690.4 1220.0,698.9 1230.0,708.0 1240.0,713.7 1250.0,719.0 1258.0,720.3 1265.0,718.7 1275.0,715.4 1285.0,710.4 1295.0,704.7 1305.0,698.6 1315.0,696.9 1325.0,695.9 1335.0,693.6 1345.0,691.0 1355.0,688.2 1365.0,683.2 1375.0,679.4 1385.0,677.5 1395.0,673.3 1403.0,670.0 1408.0,666.7" fill="none" stroke="#ff0000" stroke-width="1" stroke-dasharray="3,3" shape-rendering="crispEdges"/>
<line x1="1240.0" y1="710.0" x2="1397.4" y2="663.8" stroke="#ff0000" stroke-width="3.0" shape-rendering="crispEdges"/>
<polygon points="1407.0,661.0 1396.9,669.2 1394.1,659.6" fill="#ff0000" shape-rendering="crispEdges"/>
<g font-size="9.8" fill="#000">
<rect x="1652" y="597" width="1" height="1" shape-rendering="crispEdges"/>
<text x="1654.8" y="606" textLength="27.2" lengthAdjust="spacingAndGlyphs">163.01</text>
<rect x="1652" y="658" width="1" height="1" shape-rendering="crispEdges"/>
<text x="1654.8" y="662" textLength="18" lengthAdjust="spacingAndGlyphs">0.00</text>
<rect x="1652" y="750" width="1" height="1" shape-rendering="crispEdges"/>
<text x="1654.6" y="748" textLength="31.2" lengthAdjust="spacingAndGlyphs">-243.09</text>
</g>
<text x="-1.5" y="608.2" font-size="10.2" fill="#000" textLength="118.2" lengthAdjust="spacingAndGlyphs">MACD(12,26,9) 17.97 -23.60</text>
<line x1="1" y1="789.5" x2="1651" y2="789.5" stroke="#c0c0c0" stroke-width="1" stroke-dasharray="3,3" shape-rendering="crispEdges"/>
<line x1="1" y1="840.5" x2="1651" y2="840.5" stroke="#c0c0c0" stroke-width="1" stroke-dasharray="3,3" shape-rendering="crispEdges"/>
<line x1="1" y1="901.5" x2="1651" y2="901.5" stroke="#c0c0c0" stroke-width="1" stroke-dasharray="3,3" shape-rendering="crispEdges"/>
<polyline points="0.0,826.2 8.0,828.2 16.0,822.5 24.0,824.2 32.0,825.2 40.0,825.2 48.0,823.2 56.0,836.8 64.0,835.4 72.0,830.7 80.0,826.2 88.0,842.5 96.0,833.1 104.0,841.0 112.0,834.4 120.0,831.2 128.0,825.2 136.0,828.7 144.0,847.2 152.0,849.2 160.0,849.2 168.0,854.2 176.0,842.3 184.0,839.8 192.0,829.4 200.0,831.2 208.0,834.4 216.0,826.2 224.0,826.9 232.0,830.7 240.0,848.0 248.0,844.8 256.0,846.7 264.0,851.4 272.0,843.0 280.0,835.4 288.0,833.6 296.0,832.4 304.0,832.4 312.0,839.8 320.0,838.6 328.0,840.1 336.0,840.3 344.0,875.2 352.0,874.4 360.0,878.1 368.0,872.0 376.0,880.6 384.0,862.6 392.0,872.5 400.0,860.8 408.0,863.8 416.0,867.8 424.0,870.2 432.0,855.9 440.0,850.4 448.0,864.0 456.0,864.0 464.0,853.4 472.0,845.2 480.0,846.5 488.0,862.8 496.0,873.2 504.0,870.2 512.0,860.1 520.0,863.3 528.0,856.4 536.0,852.2 544.0,849.2 552.0,846.5 560.0,842.3 568.0,839.1 576.0,843.0 584.0,849.2 592.0,859.6 600.0,866.3 608.0,871.2 616.0,870.7 624.0,872.0 632.0,873.9 640.0,855.9 648.0,845.5 656.0,844.3 664.0,849.2 672.0,846.0 680.0,849.0 688.0,861.3 696.0,849.2 704.0,852.2 712.0,848.0 720.0,844.3 728.0,852.2 736.0,862.6 744.0,861.3 752.0,862.8 760.0,866.3 768.0,880.1 776.0,885.6 784.0,891.0 792.0,891.3 800.0,891.3 808.0,881.0 816.0,860.8 824.0,850.4 832.0,855.4 840.0,862.1 848.0,873.2 856.0,875.2 864.0,865.8 872.0,858.4 880.0,853.4 888.0,836.6 896.0,842.3 904.0,838.1 912.0,836.6 920.0,829.4 928.0,831.6 936.0,815.6 944.0,817.5 952.0,817.5 960.0,816.3 968.0,825.7 976.0,829.4 984.0,822.5 992.0,820.8 1000.0,819.3 1008.0,815.8 1016.0,812.6 1024.0,812.1 1032.0,820.0 1040.0,816.3 1048.0,822.0 1056.0,823.7 1064.0,821.3 1072.0,833.6 1080.0,836.6 1088.0,862.1 1096.0,867.0 1104.0,857.1 1112.0,852.9 1120.0,849.2 1128.0,852.9 1136.0,849.2 1144.0,856.4 1152.0,848.0 1160.0,843.0 1168.0,835.4 1176.0,844.8 1184.0,869.5 1192.0,876.4 1200.0,872.3 1208.0,880.4 1216.0,880.4 1224.0,858.3 1232.0,851.9 1240.0,840.0 1248.0,838.1 1256.0,836.2 1264.0,846.2 1272.0,846.2 1280.0,846.2 1288.0,856.0 1296.0,855.1 1304.0,854.2 1312.0,853.6 1320.0,856.0 1328.0,842.4 1336.0,827.3 1344.0,833.7 1352.0,836.2 1360.0,840.0 1368.0,850.0 1376.0,852.3 1384.0,848.1 1392.0,831.5 1400.0,828.2 1408.0,828.2" fill="none" stroke="#1e90ff" stroke-width="1" shape-rendering="crispEdges"/>
<line x1="1260.0" y1="837.5" x2="1391.0" y2="832.4" stroke="#ff0000" stroke-width="3.0" shape-rendering="crispEdges"/>
<polygon points="1400.0,832.0 1389.2,837.4 1388.8,827.4" fill="#ff0000" shape-rendering="crispEdges"/>
<g font-size="9.8" fill="#000">
<rect x="1652" y="755" width="1" height="1" shape-rendering="crispEdges"/>
<text x="1653.8" y="764.0" textLength="15.2" lengthAdjust="spacingAndGlyphs">100</text>
<rect x="1652" y="789" width="1" height="1" fill="#c0c0c0" shape-rendering="crispEdges"/>
<text x="1653.8" y="793.0" textLength="10.0" lengthAdjust="spacingAndGlyphs">80</text>
<rect x="1652" y="840" width="1" height="1" fill="#c0c0c0" shape-rendering="crispEdges"/>
<text x="1653.8" y="844.0" textLength="10.0" lengthAdjust="spacingAndGlyphs">50</text>
<rect x="1652" y="901" width="1" height="1" fill="#c0c0c0" shape-rendering="crispEdges"/>
<text x="1653.8" y="905.0" textLength="10.0" lengthAdjust="spacingAndGlyphs">15</text>
<rect x="1652" y="927" width="1" height="1" shape-rendering="crispEdges"/>
<text x="1653.8" y="924.0" textLength="5.0" lengthAdjust="spacingAndGlyphs">0</text>
</g>
<text x="-4.5" y="766.4" font-size="10.2" fill="#000" textLength="68.2" lengthAdjust="spacingAndGlyphs">RSI(14) 57.1293</text>
<g font-size="9.8" fill="#000">
<text x="-8" y="940" textLength="52.3" lengthAdjust="spacingAndGlyphs">27 Aug 2021</text>
<rect x="56" y="928" width="1" height="3" shape-rendering="crispEdges"/>
<text x="55" y="940" textLength="54.9" lengthAdjust="spacingAndGlyphs">30 Aug 16:00</text>
<rect x="120" y="928" width="1" height="3" shape-rendering="crispEdges"/>
<text x="119" y="940" textLength="50.2" lengthAdjust="spacingAndGlyphs">1 Sep 00:00</text>
<rect x="184" y="928" width="1" height="3" shape-rendering="crispEdges"/>
<text x="183" y="940" textLength="50.2" lengthAdjust="spacingAndGlyphs">2 Sep 08:00</text>
<rect x="248" y="928" width="1" height="3" shape-rendering="crispEdges"/>
<text x="247" y="940" textLength="50.2" lengthAdjust="spacingAndGlyphs">3 Sep 16:00</text>
<rect x="312" y="928" width="1" height="3" shape-rendering="crispEdges"/>
<text x="311" y="940" textLength="50.2" lengthAdjust="spacingAndGlyphs">6 Sep 22:00</text>
<rect x="376" y="928" width="1" height="3" shape-rendering="crispEdges"/>
<text x="375" y="940" textLength="50.2" lengthAdjust="spacingAndGlyphs">8 Sep 04:00</text>
<rect x="440" y="928" width="1" height="3" shape-rendering="crispEdges"/>
<text x="439" y="940" textLength="50.2" lengthAdjust="spacingAndGlyphs">9 Sep 12:00</text>
<rect x="504" y="928" width="1" height="3" shape-rendering="crispEdges"/>
<text x="503" y="940" textLength="55.4" lengthAdjust="spacingAndGlyphs">10 Sep 20:00</text>
<rect x="568" y="928" width="1" height="3" shape-rendering="crispEdges"/>
<text x="567" y="940" textLength="55.4" lengthAdjust="spacingAndGlyphs">14 Sep 00:00</text>
<rect x="632" y="928" width="1" height="3" shape-rendering="crispEdges"/>
<text x="631" y="940" textLength="55.4" lengthAdjust="spacingAndGlyphs">15 Sep 08:00</text>
<rect x="696" y="928" width="1" height="3" shape-rendering="crispEdges"/>
<text x="695" y="940" textLength="55.4" lengthAdjust="spacingAndGlyphs">16 Sep 16:00</text>
<rect x="760" y="928" width="1" height="3" shape-rendering="crispEdges"/>
<text x="759" y="940" textLength="55.4" lengthAdjust="spacingAndGlyphs">19 Sep 23:00</text>
<rect x="824" y="928" width="1" height="3" shape-rendering="crispEdges"/>
<text x="823" y="940" textLength="55.4" lengthAdjust="spacingAndGlyphs">21 Sep 04:00</text>
<rect x="888" y="928" width="1" height="3" shape-rendering="crispEdges"/>
<text x="887" y="940" textLength="55.4" lengthAdjust="spacingAndGlyphs">22 Sep 12:00</text>
<rect x="952" y="928" width="1" height="3" shape-rendering="crispEdges"/>
<text x="951" y="940" textLength="55.4" lengthAdjust="spacingAndGlyphs">23 Sep 20:00</text>
<rect x="1016" y="928" width="1" height="3" shape-rendering="crispEdges"/>
<text x="1015" y="940" textLength="55.4" lengthAdjust="spacingAndGlyphs">27 Sep 00:00</text>
<rect x="1080" y="928" width="1" height="3" shape-rendering="crispEdges"/>
<text x="1079" y="940" textLength="55.4" lengthAdjust="spacingAndGlyphs">28 Sep 08:00</text>
<rect x="1144" y="928" width="1" height="3" shape-rendering="crispEdges"/>
<text x="1143" y="940" textLength="55.4" lengthAdjust="spacingAndGlyphs">29 Sep 16:00</text>
<rect x="1208" y="928" width="1" height="3" shape-rendering="crispEdges"/>
<text x="1207" y="940" textLength="48.1" lengthAdjust="spacingAndGlyphs">1 Oct 00:00</text>
<rect x="1272" y="928" width="1" height="3" shape-rendering="crispEdges"/>
<text x="1271" y="940" textLength="48.1" lengthAdjust="spacingAndGlyphs">4 Oct 04:00</text>
<rect x="1336" y="928" width="1" height="3" shape-rendering="crispEdges"/>
<text x="1335" y="940" textLength="48.1" lengthAdjust="spacingAndGlyphs">5 Oct 12:00</text>
<rect x="1400" y="928" width="1" height="3" shape-rendering="crispEdges"/>
<text x="1399" y="940" textLength="48.1" lengthAdjust="spacingAndGlyphs">6 Oct 20:00</text>
</g>
<polygon points="0,34.5 0,37 2.4,37" fill="#000"/>
<text x="7.5" y="37.8" font-size="10.2" fill="#000" textLength="185.5" lengthAdjust="spacingAndGlyphs">DJ30-,H4&#160;&#160;34294.0 34294.0 34294.0 34294.0</text>
</svg>
<svg width="1698" height="26" viewBox="0 0 1698 26" style="position:absolute;left:0;top:0">
<defs><linearGradient id="tbg" x1="0" y1="0" x2="0" y2="1"><stop offset="0" stop-color="#f0f0f0"/><stop offset="1" stop-color="#f0f0f0"/></linearGradient></defs>
<rect x="0" y="0" width="1698" height="22" fill="#f0f0f0"/>
<rect x="0" y="22" width="1698" height="1" fill="#a8a8a8"/>
<rect x="0" y="23" width="1698" height="1" fill="#6a6a6a"/>
<rect x="0" y="24" width="1698" height="2" fill="#fff"/>
<g shape-rendering="crispEdges">
<rect x="12" y="0" width="1" height="20" fill="#a0a0a0"/><rect x="13" y="0" width="1" height="20" fill="#fafafa"/>
<rect x="248" y="0" width="1" height="20" fill="#a0a0a0"/><rect x="249" y="0" width="1" height="20" fill="#fafafa"/>
<rect x="286" y="0" width="1" height="20" fill="#a0a0a0"/><rect x="287" y="0" width="1" height="20" fill="#fafafa"/>
<rect x="343" y="0" width="1" height="20" fill="#a0a0a0"/><rect x="344" y="0" width="1" height="20" fill="#fafafa"/>
<rect x="433" y="0" width="1" height="20" fill="#a0a0a0"/><rect x="434" y="0" width="1" height="20" fill="#fafafa"/>
<rect x="438" y="0" width="1" height="20" fill="#a0a0a0"/><rect x="439" y="0" width="1" height="20" fill="#fafafa"/>
<rect x="466" y="0" width="1" height="20" fill="#a0a0a0"/><rect x="467" y="0" width="1" height="20" fill="#fafafa"/>
<rect x="495" y="0" width="1" height="20" fill="#a0a0a0"/><rect x="496" y="0" width="1" height="20" fill="#fafafa"/>
<rect x="616" y="0" width="1" height="20" fill="#a0a0a0"/><rect x="617" y="0" width="1" height="20" fill="#fafafa"/>
<rect x="626" y="0" width="1" height="20" fill="#a0a0a0"/><rect x="627" y="0" width="1" height="20" fill="#fafafa"/>
<rect x="683" y="0" width="1" height="20" fill="#a0a0a0"/><rect x="684" y="0" width="1" height="20" fill="#fafafa"/>
<rect x="922" y="0" width="1" height="20" fill="#a0a0a0"/><rect x="923" y="0" width="1" height="20" fill="#fafafa"/>
<rect x="1183" y="0" width="1" height="20" fill="#a0a0a0"/><rect x="1184" y="0" width="1" height="20" fill="#fafafa"/>
<rect x="252" y="0" width="3" height="1" fill="#a0a0a0"/>
<rect x="252" y="2" width="3" height="1" fill="#a0a0a0"/>
<rect x="252" y="4" width="3" height="1" fill="#a0a0a0"/>
<rect x="252" y="6" width="3" height="1" fill="#a0a0a0"/>
<rect x="252" y="8" width="3" height="1" fill="#a0a0a0"/>
<rect x="252" y="10" width="3" height="1" fill="#a0a0a0"/>
<rect x="252" y="12" width="3" height="1" fill="#a0a0a0"/>
<rect x="252" y="14" width="3" height="1" fill="#a0a0a0"/>
<rect x="252" y="16" width="3" height="1" fill="#a0a0a0"/>
<rect x="252" y="18" width="3" height="1" fill="#a0a0a0"/>
<rect x="620" y="0" width="3" height="1" fill="#a0a0a0"/>
<rect x="620" y="2" width="3" height="1" fill="#a0a0a0"/>
<rect x="620" y="4" width="3" height="1" fill="#a0a0a0"/>
<rect x="620" y="6" width="3" height="1" fill="#a0a0a0"/>
<rect x="620" y="8" width="3" height="1" fill="#a0a0a0"/>
<rect x="620" y="10" width="3" height="1" fill="#a0a0a0"/>
<rect x="620" y="12" width="3" height="1" fill="#a0a0a0"/>
<rect x="620" y="14" width="3" height="1" fill="#a0a0a0"/>
<rect x="620" y="16" width="3" height="1" fill="#a0a0a0"/>
<rect x="620" y="18" width="3" height="1" fill="#a0a0a0"/>
<rect x="926" y="0" width="3" height="1" fill="#a0a0a0"/>
<rect x="926" y="2" width="3" height="1" fill="#a0a0a0"/>
<rect x="926" y="4" width="3" height="1" fill="#a0a0a0"/>
<rect x="926" y="6" width="3" height="1" fill="#a0a0a0"/>
<rect x="926" y="8" width="3" height="1" fill="#a0a0a0"/>
<rect x="926" y="10" width="3" height="1" fill="#a0a0a0"/>
<rect x="926" y="12" width="3" height="1" fill="#a0a0a0"/>
<rect x="926" y="14" width="3" height="1" fill="#a0a0a0"/>
<rect x="926" y="16" width="3" height="1" fill="#a0a0a0"/>
<rect x="926" y="18" width="3" height="1" fill="#a0a0a0"/>
</g>
<defs><linearGradient id="gplus" x1="0" y1="0" x2="0" y2="1"><stop offset="0" stop-color="#7ef07e"/><stop offset="1" stop-color="#18b818"/></linearGradient><linearGradient id="ggold" x1="0" y1="0" x2="1" y2="1"><stop offset="0" stop-color="#f8e070"/><stop offset="1" stop-color="#c89018"/></linearGradient><linearGradient id="gcand" x1="0" y1="0" x2="1" y2="0"><stop offset="0" stop-color="#60e060"/><stop offset="0.4" stop-color="#a8f8a8"/><stop offset="1" stop-color="#20c020"/></linearGradient><radialGradient id="glens" cx="0.5" cy="0.6" r="0.6"><stop offset="0" stop-color="#f4fbff"/><stop offset="1" stop-color="#cfe8f8"/></radialGradient><linearGradient id="gblue" x1="0" y1="0" x2="0" y2="1"><stop offset="0" stop-color="#4a90e8"/><stop offset="1" stop-color="#1a50c0"/></linearGradient><linearGradient id="ggreen" x1="0" y1="0" x2="0" y2="1"><stop offset="0" stop-color="#48b030"/><stop offset="1" stop-color="#2a8a18"/></linearGradient><pattern id="chk" width="2" height="2" patternUnits="userSpaceOnUse"><rect width="2" height="2" fill="#f7f7f7"/><rect width="1" height="1" fill="#ececec"/><rect x="1" y="1" width="1" height="1" fill="#ececec"/></pattern></defs>
<rect x="287" y="0" width="24" height="20" fill="url(#chk)"/><rect x="286" y="20" width="25" height="1" fill="#fff"/>
<rect x="439" y="0" width="24" height="20" fill="url(#chk)"/><rect x="438" y="20" width="25" height="1" fill="#fff"/>
<rect x="467" y="0" width="24" height="20" fill="url(#chk)"/><rect x="466" y="20" width="25" height="1" fill="#fff"/>
<rect x="627" y="0" width="24" height="20" fill="url(#chk)"/><rect x="626" y="20" width="25" height="1" fill="#fff"/>
<rect x="1073" y="0" width="24" height="20" fill="url(#chk)"/><rect x="1072" y="0" width="1" height="20" fill="#a0a0a0"/>
<circle cx="-2" cy="9" r="4.5" fill="#cfe4f8" stroke="#3b78c9" stroke-width="1.3"/><line x1="1" y1="13" x2="4" y2="18" stroke="#d0a830" stroke-width="2.4"/>
<path d="M22.5 2.5h8.5l3 3v10h-11.5z" fill="#fff" stroke="#707070"/><path d="M31 2.5v3h3" fill="#e8e8e8" stroke="#707070"/><path d="M24.5 5.5h2M24.5 8.5h6M24.5 10.5h5M24.5 12.5h4" stroke="#909090"/><path d="M30.5 8.5h3v3.5h3.5v3h-3.5v3.5h-3v-3.5h-3.5v-3h3.5z" fill="url(#gplus)" stroke="#109010" stroke-width="0.8"/>
<text x="41" y="13.2" font-size="12" fill="#111" font-family="Liberation Sans, Noto Sans CJK SC, sans-serif">新订单</text>
<path d="M89.5 11.5l7-8 8.5 7.5-6.5 7.5z" fill="url(#ggold)" stroke="#a87010" stroke-width="0.8"/><path d="M90.5 13l7.5 5.5 6.5-6.5" fill="none" stroke="#b88020" stroke-width="1.2"/>
<path d="M119.5 3.5h8l2 1.5v7h-10z" fill="url(#gblue)" stroke="#1a50b0" stroke-width="0.8"/><path d="M122 6.5h5M122 8.5h5" stroke="#fff" stroke-width="1"/><path d="M118 17c-2 0-2-4 1-4c0-3 4-4 6-2c1-2 5-2 5 1c3 0 3 5 0 5z" fill="#f4f6fa" stroke="#7890b8" stroke-width="0.9"/>
<circle cx="152.5" cy="10" r="7.2" fill="none" stroke="#a8c4ec" stroke-width="1"/><circle cx="152.5" cy="10" r="5" fill="none" stroke="#7aa4e4" stroke-width="1"/><circle cx="152.5" cy="10" r="2.8" fill="none" stroke="#5a8ad8" stroke-width="1"/><path d="M157.5 14.5a7 7 0 0 0 2-6" fill="none" stroke="#60b060" stroke-width="1.2"/><circle cx="152.5" cy="9.5" r="1.4" fill="#1a56c8"/><path d="M153 10v7.5" stroke="#20a020" stroke-width="1.3"/>
<path d="M173 12l6 6h6l2-6z" fill="#f2cc38" stroke="#c09010" stroke-width="0.7"/><ellipse cx="180" cy="7" rx="7.3" ry="3.2" fill="#5b9fdb" stroke="#2f70b8" stroke-width="0.7"/><ellipse cx="180.5" cy="5" rx="3.8" ry="2.8" fill="#6fb0e8"/><circle cx="184.5" cy="14" r="3.9" fill="#d82018"/><rect x="183" y="12.5" width="3" height="3" fill="#fff"/>
<text x="194" y="13" font-size="12" fill="#111" font-family="Liberation Sans, Noto Sans CJK SC, sans-serif">自动交易</text>
<path d="M266.5 4.5v13M264.0 15.5h14" fill="none" stroke="#484848" stroke-width="1"/>
<path d="M266.5 3l-2 2.6h4z" fill="#484848"/><path d="M279.5 15.5l-2.6 -2v4z" fill="#484848"/>
<path d="M270 12.5h2.5M272.5 5v8.5M272.5 6.5h2.5" fill="none" stroke="#1a8a1a" stroke-width="1.1"/>
<path d="M294.5 4.5v13M292.0 15.5h14" fill="none" stroke="#484848" stroke-width="1"/>
<path d="M294.5 3l-2 2.6h4z" fill="#484848"/><path d="M307.5 15.5l-2.6 -2v4z" fill="#484848"/>
<path d="M300.5 2v12" stroke="#108010" stroke-width="1"/><rect x="298.5" y="4.5" width="4" height="7" fill="url(#gcand)" stroke="#108010" stroke-width="1"/>
<path d="M322.5 4.5v13M320.0 15.5h14" fill="none" stroke="#484848" stroke-width="1"/>
<path d="M322.5 3l-2 2.6h4z" fill="#484848"/><path d="M335.5 15.5l-2.6 -2v4z" fill="#484848"/>
<path d="M321 12.5c2-2 4-6 6-5.5s3 3 5.5 4" fill="none" stroke="#2a9a2a" stroke-width="1"/>
<line x1="361.5" y1="11.5" x2="366.5" y2="16.5" stroke="#b08010" stroke-width="3"/><line x1="361.5" y1="11.5" x2="366.5" y2="16.5" stroke="#f0d050" stroke-width="1.6"/>
<circle cx="358.0" cy="7.9" r="5.4" fill="url(#glens)" stroke="#3a7cc8" stroke-width="1.2"/>
<rect x="354.5" y="7" width="7" height="2" fill="#4a88b8"/>
<rect x="357.0" y="4.5" width="2" height="7" fill="#4a88b8"/>
<line x1="389.6" y1="11.5" x2="394.6" y2="16.5" stroke="#b08010" stroke-width="3"/><line x1="389.6" y1="11.5" x2="394.6" y2="16.5" stroke="#f0d050" stroke-width="1.6"/>
<circle cx="386.1" cy="7.9" r="5.4" fill="url(#glens)" stroke="#3a7cc8" stroke-width="1.2"/>
<rect x="382.6" y="7" width="7" height="2" fill="#4a88b8"/>
<rect x="408" y="2" width="8" height="8" rx="0.8" fill="url(#ggreen)"/><rect x="416" y="2" width="8" height="8" rx="0.8" fill="url(#gblue)"/><rect x="408" y="10" width="8" height="8" rx="0.8" fill="url(#gblue)"/><rect x="416" y="10" width="8" height="8" rx="0.8" fill="url(#ggreen)"/><path d="M409.5 5h5v3.5h-5zM417.5 5h5v3.5h-5zM409.5 13h5v3.5h-5zM417.5 13h5v3.5h-5z" fill="#fff"/>
<path d="M446.5 4.5v13M444.0 14.5h14" fill="none" stroke="#484848" stroke-width="1"/>
<path d="M446.5 3l-2 2.6h4z" fill="#484848"/><path d="M459.5 14.5l-2.6 -2v4z" fill="#484848"/>
<path d="M451 6v7l4.5-3.5z" fill="#30c030" stroke="#10a010" stroke-width="0.6"/>
<path d="M474.5 4.5v13M472.0 14.5h14" fill="none" stroke="#484848" stroke-width="1"/>
<path d="M474.5 3l-2 2.6h4z" fill="#484848"/><path d="M487.5 14.5l-2.6 -2v4z" fill="#484848"/>
<path d="M480.4 4v9.5" stroke="#1a6ab8" stroke-width="1.2"/><path d="M481 9.4l3-2.2v1.5h2.5v1.4h-2.5v1.5z" fill="#e85010"/>
<path d="M505.5 2.5h8.5l3 3v10h-11.5z" fill="#fff" stroke="#707070"/><path d="M514 2.5v3h3" fill="#e8e8e8" stroke="#707070"/><text x="507" y="11" font-size="8" font-style="italic" fill="#555" font-family="Liberation Serif, serif">f</text><path d="M513.5 8.5h3v3.5h3.5v3h-3.5v3.5h-3v-3.5h-3.5v-3h3.5z" fill="url(#gplus)" stroke="#109010" stroke-width="0.8"/>
<path d="M526.5 9h6l-3 3.2z" fill="#000"/>
<circle cx="550.9" cy="9.8" r="6.6" fill="#fbfbfb" stroke="#1868d4" stroke-width="2.6"/><circle cx="550.9" cy="9.8" r="7.9" fill="none" stroke="#0a3c98" stroke-width="0.6"/><rect x="554.7" y="9.4" width="0.9" height="0.9" fill="#888"/><rect x="554.2" y="11.5" width="0.9" height="0.9" fill="#888"/><rect x="552.6" y="13.1" width="0.9" height="0.9" fill="#888"/><rect x="550.4" y="13.7" width="0.9" height="0.9" fill="#888"/><rect x="548.3" y="13.1" width="0.9" height="0.9" fill="#888"/><rect x="546.7" y="11.5" width="0.9" height="0.9" fill="#888"/><rect x="546.1" y="9.4" width="0.9" height="0.9" fill="#888"/><rect x="546.7" y="7.2" width="0.9" height="0.9" fill="#888"/><rect x="548.3" y="5.6" width="0.9" height="0.9" fill="#888"/><rect x="550.4" y="5.1" width="0.9" height="0.9" fill="#888"/><rect x="552.6" y="5.6" width="0.9" height="0.9" fill="#888"/><rect x="554.2" y="7.2" width="0.9" height="0.9" fill="#888"/><path d="M550.6 5.2v4.9h3.2" fill="none" stroke="#111" stroke-width="1.2"/><rect x="549.5" y="13.2" width="3" height="0.8" fill="#6aa8f0"/>
<path d="M565.4 9h6l-3 3.2z" fill="#000"/>
<rect x="582.5" y="3.5" width="15" height="13" fill="#fff" stroke="#3a78c8"/><rect x="583" y="4" width="14" height="2" fill="#8cbcee"/><path d="M583 11.3h14" stroke="#3a78c8" stroke-width="0.8"/><path d="M584 9.5l2 -0.5 2 0 2-1.5 2 .5 2-.2 2-1" fill="none" stroke="#b02010" stroke-width="1"/><path d="M585 14.5l2-1 2 .5 2-1 2-1.5 2 2.5" fill="none" stroke="#18a018" stroke-width="1"/>
<path d="M604.4 9h6l-3 3.2z" fill="#000"/>
<path d="M634 3v11.3l2.6-2.4 2.2 5 1.8-0.8-2.2-4.8h3.6z" fill="#484848"/>
<path d="M666.5 3v6.5M666.5 11.5v6.5M659 10.5h6.5M667.5 10.5h7" stroke="#484848" stroke-width="1"/>
<path d="M700.5 4v13" stroke="#484848" stroke-width="1.1"/>
<path d="M723 10.5h12" stroke="#484848" stroke-width="1.1"/>
<path d="M750.5 17l12.5-12" stroke="#484848" stroke-width="1.1"/>
<path d="M776.5 11.5l8-7.5M778.5 16.5l11-10.5M782 17l8.5-8" stroke="#484848" stroke-width="0.9"/><path d="M779 13.5l1.5-3M781.5 11l1.5-3M784 8.5l1.5-3.5M788.5 4v3" stroke="#484848" stroke-width="1"/>
<text x="787.5" y="19" font-size="7.5" font-weight="bold" fill="#484848" font-family="Liberation Sans, sans-serif">E</text>
<path d="M806 3.5h13" stroke="#484848" stroke-width="1" stroke-dasharray="1,1"/>
<path d="M806 6.5h13" stroke="#484848" stroke-width="1" stroke-dasharray="1,1"/>
<path d="M806 10.5h13" stroke="#484848" stroke-width="1" stroke-dasharray="1,1"/>
<path d="M806 14.5h9" stroke="#484848" stroke-width="1" stroke-dasharray="1,1"/>
<text x="815.5" y="19" font-size="7.5" font-weight="bold" fill="#484848" font-family="Liberation Sans, sans-serif">F</text>
<text x="836.3" y="15" font-size="12" fill="#484848" font-family="Liberation Sans, sans-serif" textLength="8" lengthAdjust="spacingAndGlyphs">A</text>
<rect x="863.5" y="4.5" width="11" height="12" fill="none" stroke="#484848" stroke-width="1" stroke-dasharray="1,1"/><rect x="862" y="3" width="2" height="2" fill="#484848"/><path d="M865.3 7.5h7.6M869 7.5v7" stroke="#484848" stroke-width="1.6"/>
<path d="M890 7.8l3.5-3.8 3.5 3.8z" fill="#484848"/><path d="M897 13l3.5 4 3.5-4z" fill="#484848"/><path d="M892.3 11l2.2 2.4 4.5-5" fill="none" stroke="#484848" stroke-width="1.1"/>
<path d="M910.6 9h6l-3 3.2z" fill="#000"/>
<text x="937.5" y="14.3" font-size="10" fill="#333" font-family="Liberation Sans, sans-serif" textLength="12.7" lengthAdjust="spacingAndGlyphs">M1</text>
<text x="965.4" y="14.3" font-size="10" fill="#333" font-family="Liberation Sans, sans-serif" textLength="13.1" lengthAdjust="spacingAndGlyphs">M5</text>
<text x="991.4" y="14.3" font-size="10" fill="#333" font-family="Liberation Sans, sans-serif" textLength="17.9" lengthAdjust="spacingAndGlyphs">M15</text>
<text x="1019.5" y="14.3" font-size="10" fill="#333" font-family="Liberation Sans, sans-serif" textLength="17.8" lengthAdjust="spacingAndGlyphs">M30</text>
<text x="1050.3" y="14.3" font-size="10" fill="#333" font-family="Liberation Sans, sans-serif" textLength="12.6" lengthAdjust="spacingAndGlyphs">H1</text>
<text x="1077.5" y="14.3" font-size="10" fill="#333" font-family="Liberation Sans, sans-serif" textLength="12.5" lengthAdjust="spacingAndGlyphs">H4</text>
<text x="1106.0" y="14.3" font-size="10" fill="#333" font-family="Liberation Sans, sans-serif" textLength="12.6" lengthAdjust="spacingAndGlyphs">D1</text>
<text x="1134.0" y="14.3" font-size="10" fill="#333" font-family="Liberation Sans, sans-serif" textLength="14.0" lengthAdjust="spacingAndGlyphs">W1</text>
<text x="1160.5" y="14.3" font-size="10" fill="#333" font-family="Liberation Sans, sans-serif" textLength="15.0" lengthAdjust="spacingAndGlyphs">MN</text>
<circle cx="1653.5" cy="7.3" r="3.8" fill="#f4f8ff" stroke="#2a5fcf" stroke-width="1.3"/><line x1="1650.8" y1="10.2" x2="1646.5" y2="14.5" stroke="#2a5fcf" stroke-width="2.2"/>
<ellipse cx="1676.5" cy="12.5" rx="6.5" ry="5" fill="#e0e2ec" stroke="#b0b4c0" stroke-width="0.8"/><path d="M1673 16.5l0.5 2.5 2.5-2.5z" fill="#c0c4d0"/>
<circle cx="1684.3" cy="7.8" r="7.8" fill="#dc3a20"/><text x="1684.3" y="11.8" font-size="11" fill="#fff" font-family="Liberation Sans, sans-serif" text-anchor="middle">1</text>
</svg>

<div style="position:absolute;left:0;top:46px;width:216px;height:57px;">
 <svg width="216" height="57" viewBox="0 0 216 57" style="position:absolute;left:0;top:0">
  <defs>
   <linearGradient id="gtop" x1="0" y1="0" x2="0" y2="1"><stop offset="0" stop-color="#ff5656"/><stop offset="1" stop-color="#e42c2c"/></linearGradient>
   <linearGradient id="gbot" x1="0" y1="0" x2="0" y2="1"><stop offset="0" stop-color="#dc2828"/><stop offset="1" stop-color="#b20000"/></linearGradient>
   <linearGradient id="gbtn" x1="0" y1="0" x2="0" y2="1"><stop offset="0" stop-color="#f4f4f4"/><stop offset="0.45" stop-color="#e8e8e8"/><stop offset="0.5" stop-color="#d8d8d8"/><stop offset="1" stop-color="#d0d0d0"/></linearGradient>
  </defs>
  <g shape-rendering="crispEdges">
  <rect x="0" y="0" width="216" height="57" fill="#fff"/>
  <rect x="0" y="0" width="47" height="25" fill="#b00000"/>
  <rect x="0" y="1" width="46" height="23" fill="url(#gtop)"/>
  <rect x="162" y="0" width="52" height="25" fill="#b00000"/>
  <rect x="163" y="1" width="50" height="23" fill="url(#gtop)"/>
  <rect x="0" y="24" width="104" height="33" fill="#b00000"/>
  <rect x="0" y="25" width="103" height="32" fill="url(#gbot)"/>
  <rect x="106" y="24" width="108" height="33" fill="#b00000"/>
  <rect x="107" y="25" width="106" height="32" fill="url(#gbot)"/>
  <rect x="0" y="23" width="43" height="1" fill="#a00000"/><rect x="0" y="24" width="43" height="1" fill="#ff7070"/>
  <rect x="166" y="23" width="44" height="1" fill="#a00000"/><rect x="166" y="24" width="44" height="1" fill="#ff7070"/>
  <rect x="49" y="0" width="111" height="22" fill="#a8a8a8"/>
  <rect x="50" y="1" width="109" height="20" fill="#fff"/>
  <rect x="50" y="1" width="20" height="20" fill="url(#gbtn)"/><rect x="70" y="1" width="1" height="20" fill="#a8a8a8"/>
  <rect x="139" y="1" width="20" height="20" fill="url(#gbtn)"/><rect x="138" y="1" width="1" height="20" fill="#a8a8a8"/>
  </g>
  <path d="M57 9.5h6l-3 3z" fill="#4a5ccc"/>
  <path d="M146 12.5h6l-3-3z" fill="#4a5ccc"/>
  <text x="7.2" y="16" font-size="12.2" fill="#fff" font-family="Liberation Sans, sans-serif" textLength="25.8" lengthAdjust="spacingAndGlyphs">SELL</text>
  <text x="175.6" y="16" font-size="12.2" fill="#fff" font-family="Liberation Sans, sans-serif" textLength="23.2" lengthAdjust="spacingAndGlyphs">BUY</text>
  <text x="134.5" y="15.5" font-size="12.2" fill="#000" font-family="Liberation Sans, sans-serif" text-anchor="end">1.00</text>
  <text x="11.6" y="52" font-size="12.6" font-weight="bold" fill="#fff" font-family="Liberation Sans, sans-serif" textLength="34" lengthAdjust="spacingAndGlyphs">34292</text>
  <circle cx="52" cy="49.9" r="2.1" fill="#fff"/>
  <text x="57.4" y="52" font-size="35" fill="#fff" font-family="Liberation Sans, sans-serif" textLength="15.6" lengthAdjust="spacingAndGlyphs">5</text>
  <text x="121" y="52" font-size="12.6" font-weight="bold" fill="#fff" font-family="Liberation Sans, sans-serif" textLength="34" lengthAdjust="spacingAndGlyphs">34300</text>
  <circle cx="163.2" cy="49.9" r="2.1" fill="#fff"/>
  <text x="168.4" y="52" font-size="35" fill="#fff" font-family="Liberation Sans, sans-serif" textLength="15.6" lengthAdjust="spacingAndGlyphs">5</text>
  <path d="M1 5l1.5 1.5-1.5 1.5-1.5-1.5z" fill="none" stroke="#2aa0a0" stroke-width="0.8"/>
 </svg>
</div>

</body></html>
